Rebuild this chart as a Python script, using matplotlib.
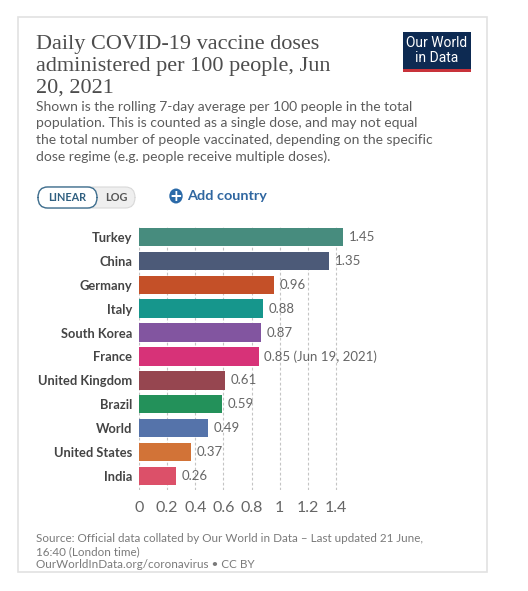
import matplotlib
matplotlib.use("Agg")
import matplotlib.pyplot as plt
from matplotlib.patches import Rectangle, FancyBboxPatch, Circle

# data
countries = ["Turkey", "China", "Germany", "Italy", "South Korea", "France",
             "United Kingdom", "Brazil", "World", "United States", "India"]
doses = [1.45, 1.35, 0.96, 0.88, 0.87, 0.85, 0.61, 0.59, 0.49, 0.37, 0.26]
value_labels = ["1.45", "1.35", "0.96", "0.88", "0.87", "0.85 (Jun 19, 2021)",
                "0.61", "0.59", "0.49", "0.37", "0.26"]
bar_colors = ["#478c7e", "#4c5a78", "#c45028", "#16968c", "#8255a0", "#d73278",
              "#964650", "#23915a", "#5573aa", "#d27337", "#dc5069"]
xticks = [0, 0.2, 0.4, 0.6, 0.8, 1.0, 1.2, 1.4]
xtick_labels = ["0", "0.2", "0.4", "0.6", "0.8", "1", "1.2", "1.4"]

W, H = 528, 591
plt.rcParams['font.family'] = ['Lato', 'DejaVu Sans']


def fx(x):
    return x / W


def fy(y):
    return 1 - y / H


def add_patch(fig, p, z):
    p.set_transform(fig.transFigure)
    p.set_zorder(z)
    fig.patches.append(p)


fig = plt.figure(figsize=(W / 100, H / 100), dpi=100)
fig.patch.set_facecolor("white")

# card
add_patch(fig, Rectangle((fx(18), fy(572)), fx(487) - fx(18), fy(17) - fy(572),
                         facecolor="white", edgecolor="#e2e2e2", linewidth=1.2), -5)

# title
title_kw = dict(family=['Liberation Serif', 'DejaVu Serif'], fontsize=16,
                color="#4d4d4d", va="center", ha="left")
fig.text(fx(36), fy(45), "Daily COVID-19 vaccine doses", **title_kw)
fig.text(fx(36), fy(67), "administered per 100 people, Jun", **title_kw)
fig.text(fx(36), fy(88), "20, 2021", **title_kw)

# subtitle
sub = ["Shown is the rolling 7-day average per 100 people in the total",
       "population. This is counted as a single dose, and may not equal",
       "the total number of people vaccinated, depending on the specific",
       "dose regime (e.g. people receive multiple doses)."]
for i, line in enumerate(sub):
    fig.text(fx(36), fy(107 + i * 16.5), line, fontsize=10, color="#5c5c5c",
             va="center", ha="left")

# logo
add_patch(fig, Rectangle((fx(403), fy(72)), fx(471) - fx(403), fy(32) - fy(72),
                         facecolor="#0d2a52", edgecolor="none"), 1)
add_patch(fig, Rectangle((fx(403), fy(72)), fx(471) - fx(403), fy(69) - fy(72),
                         facecolor="#c8323a", edgecolor="none"), 2)
fig.text(fx(437), fy(43), "Our World", fontsize=10, color="white",
         ha="center", va="center", family=['Roboto', 'DejaVu Sans'])
fig.text(fx(437), fy(58), "in Data", fontsize=10, color="white",
         ha="center", va="center", family=['Roboto', 'DejaVu Sans'])

# linear / log toggle
add_patch(fig, FancyBboxPatch((fx(38), fy(208)), fx(135) - fx(38), fy(187) - fy(208),
                              boxstyle="round,pad=0,rounding_size=0.018",
                              facecolor="#efefef", edgecolor="#d8d8d8",
                              linewidth=0.8), 1)
add_patch(fig, FancyBboxPatch((fx(38), fy(208)), fx(97) - fx(38), fy(187) - fy(208),
                              boxstyle="round,pad=0,rounding_size=0.018",
                              facecolor="white", edgecolor="#3f6f8f",
                              linewidth=1.0), 2)
fig.text(fx(67), fy(197.5), "LINEAR", fontsize=7.8, color="#2f5f80",
         ha="center", va="center", weight="bold")
fig.text(fx(116), fy(197.5), "LOG", fontsize=7.8, color="#555555",
         ha="center", va="center", weight="bold")

# add country
add_patch(fig, Circle((fx(176), fy(196)), 7.5 / H, facecolor="#2b6aa8",
                      edgecolor="none"), 1)
fig.text(fx(176), fy(196.5), "+", fontsize=11, color="white", weight="bold",
         ha="center", va="center", family=['DejaVu Sans'])
fig.text(fx(187), fy(196), "Add country", fontsize=10.4, color="#2f66a0",
         ha="left", va="center", weight="bold")

# bar chart
ax = fig.add_axes([fx(139), fy(490.3), fx(350) - fx(139), fy(227.4) - fy(490.3)])
ax.set_zorder(3)
ypos = list(range(len(countries)))
ax.barh(ypos, doses, height=0.77, color=bar_colors, zorder=3)
ax.set_xlim(0, 1.5)
ax.set_ylim(10.6, -0.4)
ax.set_yticks(ypos)
ax.set_yticklabels(countries, fontsize=9.3, weight="bold", color="#444444")
ax.set_xticks(xticks)
ax.set_xticklabels(xtick_labels, fontsize=11.5, color="#666666")
ax.tick_params(axis="both", length=0)
ax.tick_params(axis="y", pad=5)
ax.tick_params(axis="x", pad=8)
for s in ax.spines.values():
    s.set_visible(False)
ax.set_axisbelow(True)
ax.grid(axis="x", color="#c4c4c4", linestyle=(0, (2.5, 2)), linewidth=0.8)
ax.set_facecolor("none")
for y, v, lab in zip(ypos, doses, value_labels):
    ax.annotate(lab, (v, y), xytext=(4, 0), textcoords="offset points",
                va="center", ha="left", fontsize=9.5, color="#666666")

# source
src = ["Source: Official data collated by Our World in Data \u2013 Last updated 21 June,",
       "16:40 (London time)",
       "OurWorldInData.org/coronavirus \u2022 CC BY"]
for i, line in enumerate(src):
    fig.text(fx(36), fy(538 + i * 13.5), line, fontsize=8.4, color="#7a7a7a",
             va="center", ha="left")

fig.savefig("out.png", dpi=100)
